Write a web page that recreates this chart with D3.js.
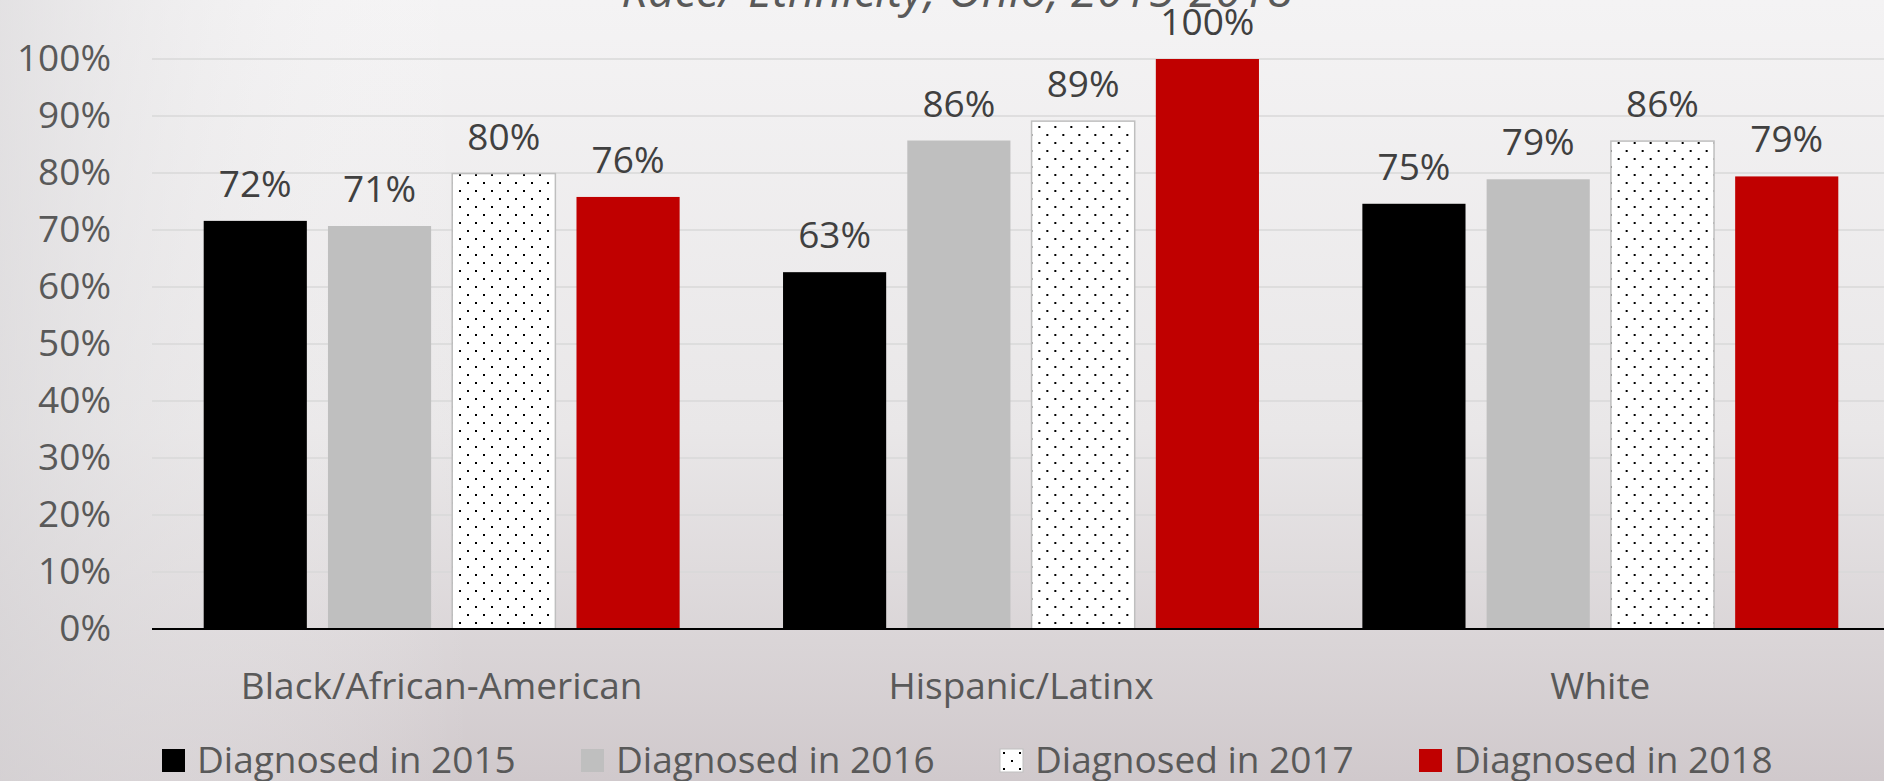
<!DOCTYPE html>
<html>
<head>
<meta charset="utf-8">
<script src="https://cdn.jsdelivr.net/npm/d3@7"></script>
<style>
  html, body { margin: 0; padding: 0; overflow: hidden; }
  body { width: 1884px; height: 781px; }
  text { font-family: "Open Sans", "Noto Sans", sans-serif; }
</style>
</head>
<body>
<div id="chart"></div>
<script>
// data (percent)
var categories = ["Black/African-American", "Hispanic/Latinx", "White"];
var seriesNames = ["Diagnosed in 2015", "Diagnosed in 2016", "Diagnosed in 2017", "Diagnosed in 2018"];
var s2015 = [71.6, 62.6, 74.6];
var s2016 = [70.7, 85.7, 78.9];
var s2017 = [79.9, 89.1, 85.6];
var s2018 = [75.8, 100, 79.4];
var yTicks = [0, 10, 20, 30, 40, 50, 60, 70, 80, 90, 100];
var title = "Race/ Ethnicity, Ohio, 2015-2018";

var seriesValues = [s2015, s2016, s2017, s2018];
var fills = ["#000000", "#bfbfbf", "url(#dots)", "#c00000"];
var strokes = ["none", "none", "#bfbfbf", "none"];

var svgWidth = 1884;
var svgHeight = 781;

var margin = { top: 59, right: -6, bottom: 152, left: 152 };
var width = svgWidth - margin.left - margin.right;
var height = svgHeight - margin.top - margin.bottom;

var svg = d3.select("#chart")
  .append("svg")
  .attr("width", svgWidth)
  .attr("height", svgHeight);

var defs = svg.append("defs");

var grad = defs.append("linearGradient")
  .attr("id", "bg")
  .attr("x1", 0).attr("y1", 0).attr("x2", 0).attr("y2", 1);
grad.append("stop").attr("offset", "0%").attr("stop-color", "#f4f3f4");
grad.append("stop").attr("offset", "55%").attr("stop-color", "#e9e7e8");
grad.append("stop").attr("offset", "100%").attr("stop-color", "#d0c9cc");

var side = defs.append("linearGradient")
  .attr("id", "side")
  .attr("x1", 0).attr("y1", 0).attr("x2", 1).attr("y2", 0);
side.append("stop").attr("offset", "0%").attr("stop-color", "#d8d6d8").attr("stop-opacity", 0.6);
side.append("stop").attr("offset", "25%").attr("stop-color", "#ffffff").attr("stop-opacity", 0);

// dotted fill for 2017
var pat = defs.append("pattern")
  .attr("id", "dots")
  .attr("patternUnits", "userSpaceOnUse")
  .attr("width", 16)
  .attr("height", 16);
pat.append("rect").attr("width", 16).attr("height", 16).attr("fill", "#ffffff");
pat.append("rect").attr("x", 3).attr("y", 3).attr("width", 2).attr("height", 2).attr("fill", "#000");
pat.append("rect").attr("x", 11).attr("y", 11).attr("width", 2).attr("height", 2).attr("fill", "#000");

svg.append("rect")
  .attr("width", svgWidth)
  .attr("height", svgHeight)
  .attr("fill", "url(#bg)");
svg.append("rect")
  .attr("width", svgWidth)
  .attr("height", svgHeight)
  .attr("fill", "url(#side)");

// title, mostly cut off at the top edge
svg.append("text")
  .attr("x", 957)
  .attr("y", 7)
  .attr("text-anchor", "middle")
  .attr("font-size", 47)
  .attr("font-style", "italic")
  .attr("fill", "#595959")
  .text(title);

var chartGroup = svg.append("g")
  .attr("transform", `translate(${margin.left}, ${margin.top})`);

var x0 = d3.scaleBand()
  .domain(categories)
  .range([0, width]);

var x1 = d3.scaleBand()
  .domain(seriesNames)
  .range([51.7, x0.bandwidth() - 51.7])
  .paddingInner(0.17);

var yScale = d3.scaleLinear()
  .domain([0, 100])
  .range([height, 0]);

// gridlines
chartGroup.selectAll(".grid")
  .data(yTicks.filter(d => d > 0))
  .enter()
  .append("line")
  .attr("x1", 0)
  .attr("x2", width)
  .attr("y1", d => yScale(d))
  .attr("y2", d => yScale(d))
  .attr("stroke", "#d9d9d9")
  .attr("stroke-width", 1.5);

// y axis labels
var leftAxis = d3.axisLeft(yScale)
  .tickValues(yTicks)
  .tickFormat(d => d + "%")
  .tickSize(0)
  .tickPadding(41);

var yAxis = chartGroup.append("g").call(leftAxis);
yAxis.select(".domain").remove();
yAxis.selectAll("text")
  .attr("font-size", 37)
  .attr("fill", "#595959")
  .attr("font-family", "Open Sans, sans-serif");

// bars
var groups = chartGroup.selectAll(".cat")
  .data(categories)
  .enter()
  .append("g")
  .attr("transform", d => `translate(${x0(d)}, 0)`);

groups.each(function(cat, ci) {
  var g = d3.select(this);
  seriesNames.forEach(function(s, si) {
    var v = seriesValues[si][ci];
    g.append("rect")
      .attr("x", x1(s))
      .attr("y", yScale(v))
      .attr("width", x1.bandwidth())
      .attr("height", yScale(0) - yScale(v))
      .attr("fill", fills[si])
      .attr("stroke", strokes[si])
      .attr("stroke-width", 1.5);
    g.append("text")
      .attr("x", x1(s) + x1.bandwidth() / 2)
      .attr("y", yScale(v) - 24)
      .attr("text-anchor", "middle")
      .attr("font-size", 37)
      .attr("fill", "#404040")
      .text(Math.round(v) + "%");
  });
});

// baseline
chartGroup.append("line")
  .attr("x1", 0)
  .attr("x2", width)
  .attr("y1", yScale(0))
  .attr("y2", yScale(0))
  .attr("stroke", "#000")
  .attr("stroke-width", 2);

// category labels
chartGroup.selectAll(".catLabel")
  .data(categories)
  .enter()
  .append("text")
  .attr("x", d => x0(d) + x0.bandwidth() / 2)
  .attr("y", height + 70)
  .attr("text-anchor", "middle")
  .attr("font-size", 37)
  .attr("fill", "#595959")
  .text(d => d);

// legend
var legendX = d3.scaleLinear().domain([0, 1]).range([162, 581]);
var legend = svg.selectAll(".legend")
  .data(seriesNames)
  .enter()
  .append("g")
  .attr("transform", (d, i) => `translate(${legendX(i)}, 749)`);

legend.append("rect")
  .attr("width", 23)
  .attr("height", 23)
  .attr("fill", (d, i) => fills[i])
  .attr("stroke", (d, i) => strokes[i]);

legend.append("text")
  .attr("x", 35)
  .attr("y", 24)
  .attr("font-size", 37)
  .attr("fill", "#595959")
  .text(d => d);
</script>
</body>
</html>
